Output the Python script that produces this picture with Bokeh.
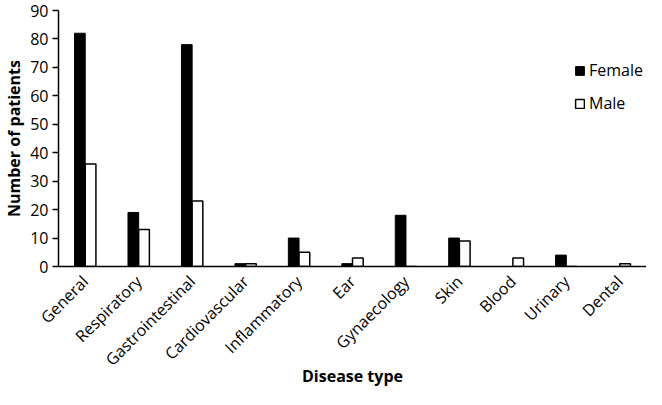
from math import pi
from bokeh.plotting import figure
from bokeh.models import FactorRange, Range1d, ColumnDataSource, Legend, LegendItem, FixedTicker
from bokeh.transform import dodge
from bokeh.embed import file_html
from bokeh.resources import INLINE

categories = ["General", "Respiratory", "Gastrointestinal", "Cardiovascular", "Inflammatory",
              "Ear", "Gynaecology", "Skin", "Blood", "Urinary", "Dental"]
female = [82, 19, 78, 1, 10, 1, 18, 10, 0, 4, 0]
male = [36, 13, 23, 1, 5, 3, 0, 9, 3, 0, 1]
y_ticks = [0, 10, 20, 30, 40, 50, 60, 70, 80, 90]
x_title = "Disease type"
y_title = "Number of patients"

src = ColumnDataSource(dict(cat=categories, female=female, male=male))

FONT = "Open Sans"
p = figure(x_range=FactorRange(*categories, range_padding=0), y_range=Range1d(0, 90),
           width=646, height=389, output_backend="svg", toolbar_location=None,
           min_border_top=10, min_border_right=0, min_border_left=0, min_border_bottom=0)
p.outline_line_color = None
p.grid.visible = False
p.background_fill_color = "white"

rf = p.vbar(x=dodge("cat", -0.1, range=p.x_range), top="female", width=0.2, source=src,
            fill_color="black", line_color="black", line_width=1)
rm = p.vbar(x=dodge("cat", 0.1, range=p.x_range), top="male", width=0.2, source=src,
            fill_color="white", line_color="black", line_width=1.5)

p.yaxis.ticker = FixedTicker(ticks=y_ticks)
p.yaxis.minor_tick_line_color = None
p.yaxis.major_tick_out = 6
p.yaxis.major_tick_in = 0
p.yaxis.major_tick_line_width = 1.5
p.yaxis.axis_line_width = 1.5
p.yaxis.axis_label = y_title

p.xaxis.major_tick_line_color = None
p.xaxis.axis_line_width = 1.5
p.xaxis.major_label_orientation = pi / 4
p.xaxis.axis_label = x_title

for ax in (p.xaxis, p.yaxis):
    ax.major_label_text_font = FONT
    ax.major_label_text_font_size = "16px"
    ax.major_label_text_color = "black"
    ax.axis_label_text_font = FONT
    ax.axis_label_text_font_size = "16px"
    ax.axis_label_text_font_style = "bold"
    ax.axis_label_text_color = "black"
    ax.axis_line_color = "black"
p.xaxis.major_label_standoff = 6
p.xaxis.major_label_text_line_height = 1.0
p.xaxis.axis_label_standoff = -16
p.yaxis.major_label_standoff = 4
p.yaxis.axis_label_standoff = 2

legend = Legend(items=[LegendItem(label="Female", renderers=[rf]),
                       LegendItem(label="Male", renderers=[rm])],
                location=(516, 152), orientation="vertical")
legend.label_text_font = FONT
legend.label_text_font_size = "16px"
legend.label_text_color = "black"
legend.glyph_width = 11
legend.glyph_height = 11
legend.spacing = 11
legend.label_standoff = 4
legend.padding = 0
legend.margin = 0
legend.background_fill_alpha = 0
legend.border_line_color = None
p.add_layout(legend)

open("out.html", "w").write(file_html(p, INLINE))
